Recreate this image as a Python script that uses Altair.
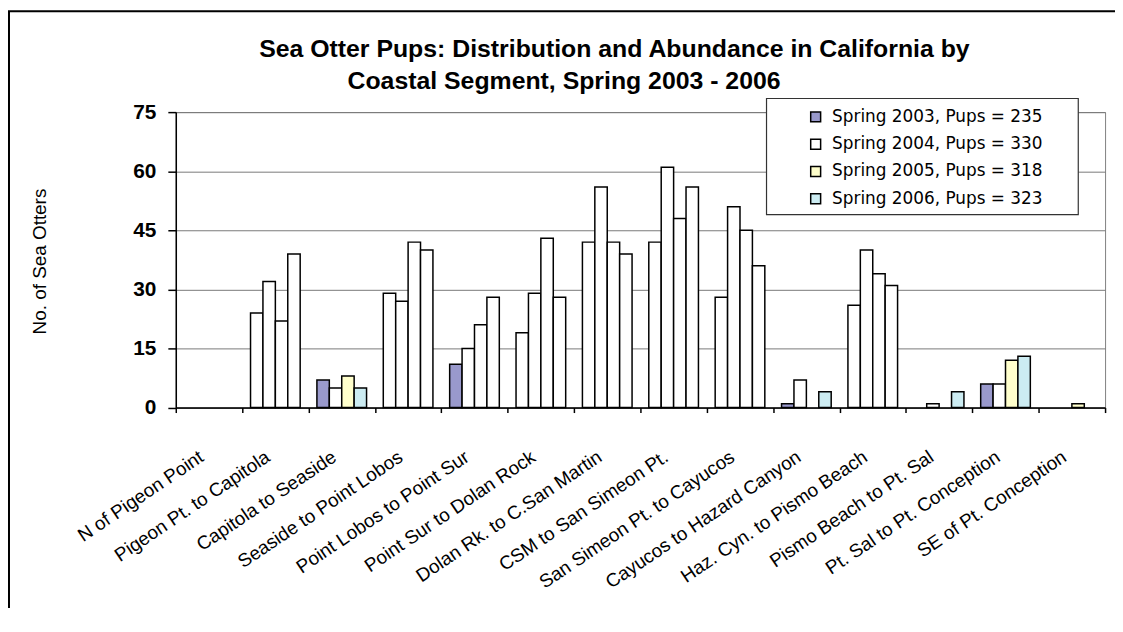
import altair as alt
import pandas as pd

segments = [
    "N of Pigeon Point", "Pigeon Pt. to Capitola", "Capitola to Seaside",
    "Seaside to Point Lobos", "Point Lobos to Point Sur", "Point Sur to Dolan Rock",
    "Dolan Rk. to C.San Martin", "CSM to San Simeon Pt.", "San Simeon Pt. to Cayucos",
    "Cayucos to Hazard Canyon", "Haz. Cyn. to Pismo Beach", "Pismo Beach to Pt. Sal",
    "Pt. Sal to Pt. Conception", "SE of Pt. Conception",
]
series = [
    "Spring 2003, Pups = 235",
    "Spring 2004, Pups = 330",
    "Spring 2005, Pups = 318",
    "Spring 2006, Pups = 323",
]
pups_2003 = [0, 24, 7, 29, 11, 19, 42, 42, 28, 1, 26, 0, 6, 0]
pups_2004 = [0, 32, 5, 27, 15, 29, 56, 61, 51, 7, 40, 1, 6, 0]
pups_2005 = [0, 22, 8, 42, 21, 43, 42, 48, 45, 0, 34, 0, 12, 1]
pups_2006 = [0, 39, 5, 40, 28, 28, 39, 56, 36, 4, 31, 4, 13, 0]
series_colors = ["#9999CC", "#FFFFFF", "#FFFFCC", "#CCECF2"]
y_ticks = [0, 15, 30, 45, 60, 75]
title_line1 = "Sea Otter Pups: Distribution and Abundance in California by"
title_line2 = "Coastal Segment, Spring 2003 - 2006"
y_title = "No. of Sea Otters"

rows = []
for s, vals in zip(series, [pups_2003, pups_2004, pups_2005, pups_2006]):
    for seg, v in zip(segments, vals):
        rows.append({"segment": seg, "series": s, "value": v})
df = pd.DataFrame(rows)

W, H = 936, 297.6

bars = alt.Chart(df).transform_filter("datum.value > 0").mark_bar(
    stroke="black", strokeWidth=1.5
).encode(
    x=alt.X(
        "segment:N", sort=segments,
        scale=alt.Scale(domain=segments, paddingInner=0, paddingOuter=0),
        axis=alt.Axis(
            title=None, tickBand="extent", tickSize=5, tickColor="black", tickWidth=1.5,
            domainColor="black", domainWidth=1.5,
            labelAngle=-34, labelAlign="right", labelBaseline="top",
            labelFont="Liberation Sans", labelFontSize=19, labelColor="black",
            labelPadding=35, labelOffset=-13, labelLimit=400, labelOverlap=False,
        ),
    ),
    xOffset=alt.XOffset(
        "series:N", sort=series,
        scale=alt.Scale(domain=series, paddingInner=0, paddingOuter=0.674),
    ),
    y=alt.Y(
        "value:Q",
        scale=alt.Scale(domain=[0, 75], nice=False),
        axis=alt.Axis(
            values=y_ticks, title=y_title, grid=True, gridColor="#7a7a7a", gridWidth=1,
            domainColor="black", domainWidth=1.5, tickColor="black", tickSize=8, tickWidth=1.5,
            labelFont="Liberation Sans", labelFontSize=21, labelFontWeight="bold",
            labelColor="black", labelPadding=12,
            titleFont="Liberation Sans", titleFontSize=19, titleFontWeight="normal",
            titleColor="black", titleAngle=-90, titleAlign="center", titleBaseline="middle",
            titleX=-137, titleY=150,
        ),
    ),
    fill=alt.condition(
        "datum.value < 15",
        alt.Fill(
            "series:N", sort=series,
            scale=alt.Scale(domain=series, range=series_colors),
            legend=alt.Legend(
                title=None, orient="none", legendX=595, legendY=-12.7,
                padding=9,
                symbolType="square", symbolSize=100, symbolStrokeColor="black",
                symbolStrokeWidth=1.5, symbolOffset=32,
                labelFont="DejaVu Sans", labelFontSize=17, labelColor="black",
                labelOffset=8, rowPadding=9.5, labelLimit=400,
            ),
        ),
        alt.value("white"),
    ),
)

# frame of the chart area and of the legend box (decoration only)
border = alt.Chart(pd.DataFrame({"k": [0]})).mark_rect(
    filled=False, stroke="black", strokeWidth=2
).encode(
    x=alt.value(-168), x2=alt.value(1300), y=alt.value(-101.5), y2=alt.value(900)
)
legend_box = alt.Chart(pd.DataFrame({"k": [0]})).mark_rect(
    fill="white", stroke="#333333", strokeWidth=1.2
).encode(
    x=alt.value(595), x2=alt.value(909), y=alt.value(-13.7), y2=alt.value(103.3)
)

t1 = alt.Chart(pd.DataFrame({"t": [title_line1]})).mark_text(
    font="Liberation Sans", fontSize=25, fontWeight="bold", align="left",
    baseline="alphabetic", color="black"
).encode(text="t:N", x=alt.value(84), y=alt.value(-55.5))

t2 = alt.Chart(pd.DataFrame({"t": [title_line2]})).mark_text(
    font="Liberation Sans", fontSize=25, fontWeight="bold", align="left",
    baseline="alphabetic", color="black"
).encode(text="t:N", x=alt.value(173), y=alt.value(-23.5))

chart = alt.layer(border, legend_box, bars, t1, t2).properties(
    width=W, height=H,
    autosize=alt.AutoSizeParams(type="none"),
    padding={"left": 169, "top": 102.7, "right": 10, "bottom": 200},
    background="white",
).configure_view(stroke="#808080", strokeWidth=1)

chart.save("out.html", embed_options={"renderer": "svg", "actions": False})
